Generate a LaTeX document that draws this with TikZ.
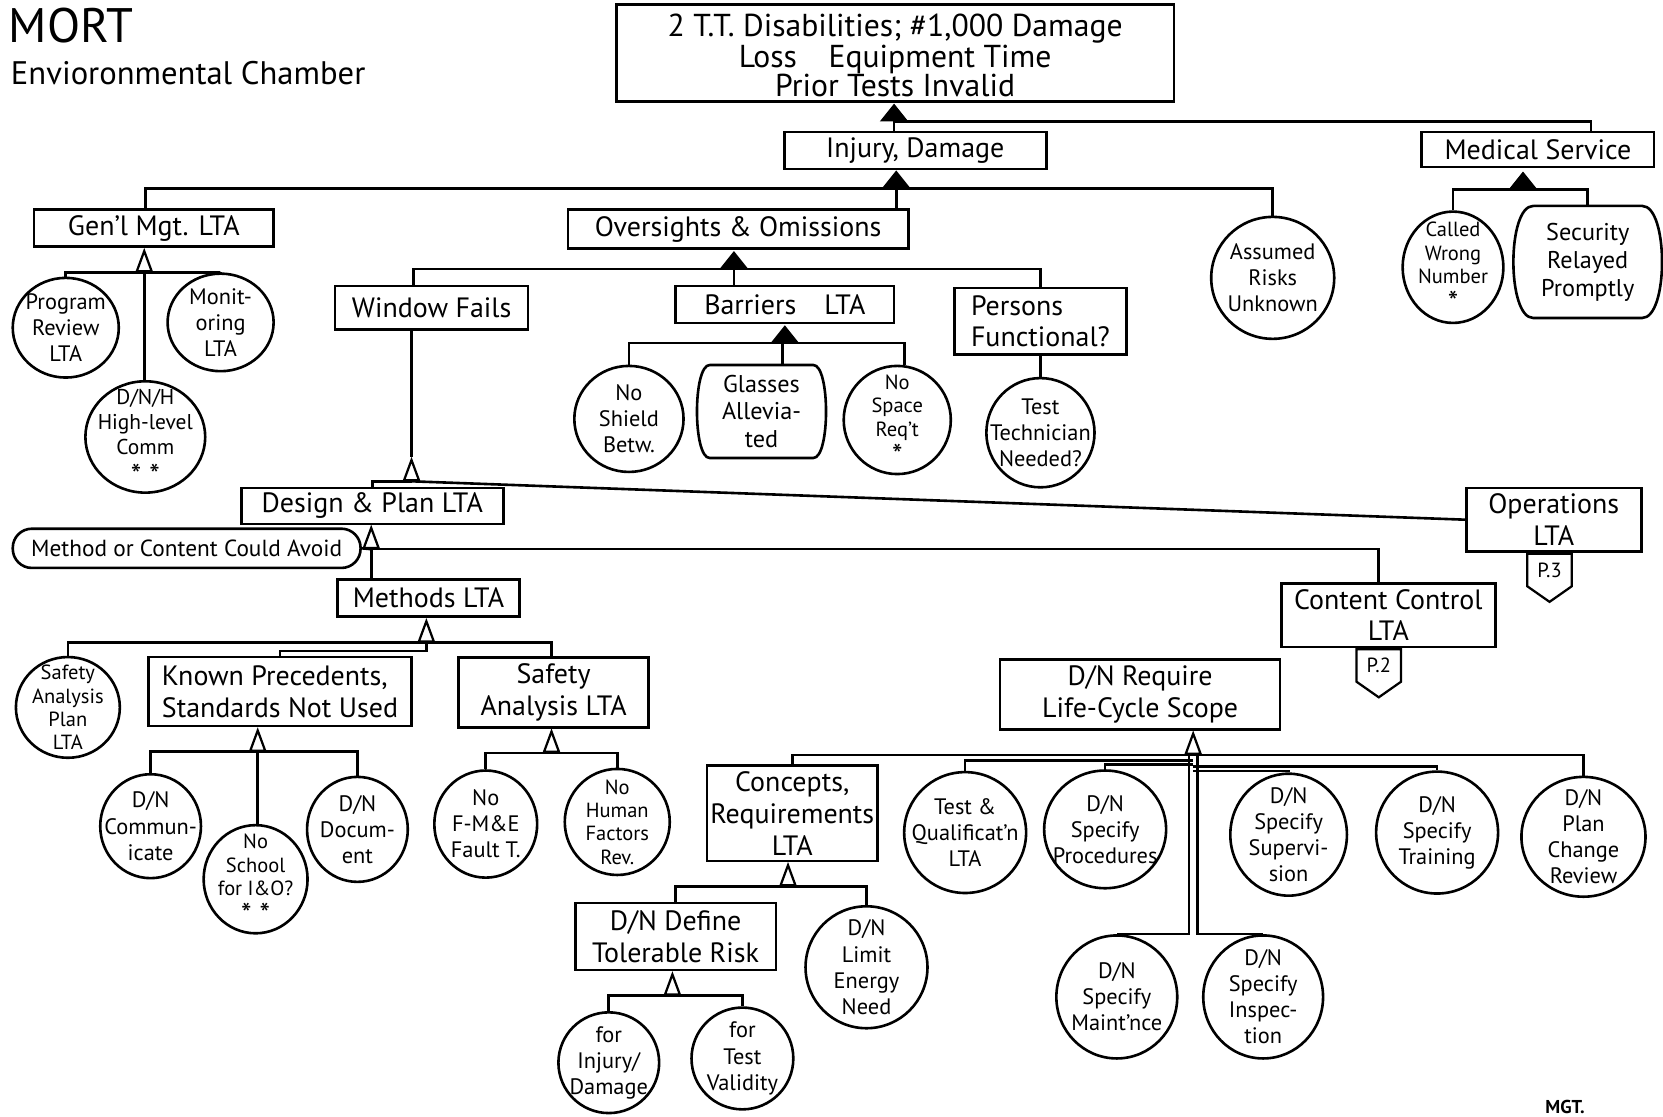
\documentclass[tikz,border=0pt]{standalone}
\usepackage{fontspec}
\setmainfont{PT Sans}
\usetikzlibrary{shapes.geometric,shapes.symbols}

\begin{document}
\begin{tikzpicture}[
    x=0.02cm, y=-0.02cm,
    wire/.style={line width=1.4pt},
    box/.style={draw, rectangle, line width=1.4pt, inner sep=0pt, align=center, font=\fontsize{15}{17}\selectfont},
    circ/.style={draw, ellipse, line width=1.4pt, inner sep=-15pt, align=center, font=\fontsize{12}{14}\selectfont},
    circs/.style={circ, font=\fontsize{11}{12.5}\selectfont},
    barrel/.style={rectangle, inner sep=0pt, align=center, font=\fontsize{13}{15}\selectfont},
    cond/.style={draw, rectangle, rounded corners=0.36cm, line width=1.4pt, inner sep=0pt, font=\fontsize{12.5}{14}\selectfont},
    xfer/.style={draw, signal, signal to=south, signal pointer angle=110, line width=1.2pt, inner sep=1pt, minimum width=0.84cm, minimum height=0.80cm, anchor=north, font=\fontsize{11}{12}\selectfont},
    gatef/.style={isosceles triangle, isosceles triangle stretches, shape border rotate=90, draw, fill=black, line width=0.8pt, inner sep=0pt, minimum width=0.48cm, minimum height=0.30cm, anchor=apex},
    gateo/.style={isosceles triangle, isosceles triangle stretches, shape border rotate=90, draw, fill=white, line width=1.2pt, inner sep=0pt, minimum width=0.28cm, minimum height=0.38cm, anchor=apex}
]
\useasboundingbox[fill=white] (0,0) rectangle (1568,1053);

% Title
\node[anchor=base west, inner sep=0pt, font=\fontsize{26}{30}\selectfont] (mort) at (8,40) {MORT};
\node[anchor=base west, inner sep=0pt, font=\fontsize{17.5}{20}\selectfont] (chamber) at (10,80) {Envioronmental Chamber};

% Top event
\node[box, minimum width=10.52cm, minimum height=1.82cm, font=\fontsize{17}{15.5}\selectfont] (top) at (844,50)
    {\rule{0pt}{15pt}2 T.T. Disabilities; \#1,000 Damage\\Loss\quad Equipment Time\\Prior Tests Invalid};
\node[gatef] (g0) at (843,97) {};
\node[box, minimum width=4.94cm, minimum height=0.70cm] (injury) at (863,142) {Injury, Damage};
\node[box, minimum width=4.38cm, minimum height=0.66cm] (medical) at (1450,141) {Medical Service};

% Medical service
\node[gatef] (gmed) at (1436,161) {};
\node[circs, minimum width=1.90cm, minimum height=2.10cm] (called) at (1370,252) {Called\\Wrong\\Number\\\raisebox{-3pt}{\fontsize{16}{12}\selectfont *}};
\node[barrel, minimum width=2.04cm, minimum height=2.10cm] (security) at (1497,247) {Security\\Relayed\\Promptly};

% Injury, damage
\node[gatef] (ginj) at (845,160) {};
\node[box, minimum width=4.52cm, minimum height=0.70cm] (genl) at (145,215) {Gen'l Mgt. LTA};
\node[box, minimum width=6.42cm, minimum height=0.74cm] (overs) at (696,216) {Oversights \& Omissions};
\node[circ, minimum width=2.32cm, minimum height=2.30cm] (assumed) at (1200,262) {Assumed\\Risks\\Unknown};

% General management
\node[gateo] (ggenl) at (136,234) {};
\node[circ, minimum width=2.00cm, minimum height=1.88cm] (progrev) at (62,309) {Program\\Review\\LTA};
\node[circ, minimum width=2.00cm, minimum height=1.84cm] (monit) at (208,304) {Monit-\\oring\\LTA};
\node[circ, minimum width=2.26cm, minimum height=2.10cm, font=\fontsize{11.5}{13.5}\selectfont] (dnh) at (137,412) {D/N/H\\High-level\\Comm\\\raisebox{-3pt}{\fontsize{16}{12}\selectfont * *}};

% Oversights and omissions
\node[gatef] (govers) at (692,236) {};
\node[box, minimum width=3.64cm, minimum height=0.82cm] (window) at (407,290) {Window Fails};
\node[box, minimum width=4.12cm, minimum height=0.70cm] (barriers) at (740,287) {Barriers\quad LTA};
\node[box, minimum width=3.24cm, minimum height=1.26cm, align=left] (persons) at (981,303) {Persons\\Functional?};

% Barriers
\node[gatef] (gbarr) at (740,306) {};
\node[circ, minimum width=2.06cm, minimum height=2.00cm] (noshield) at (593,395) {No\\Shield\\Betw.};
\node[barrel, minimum width=1.94cm, minimum height=1.74cm] (glasses) at (718,388) {Glasses\\Allevia-\\ted};
\node[circs, minimum width=2.02cm, minimum height=2.04cm] (nospace) at (846,396) {No\\Space\\Req't\\\raisebox{-3pt}{\fontsize{16}{12}\selectfont *}};
\node[circ, minimum width=2.04cm, minimum height=2.06cm] (testtech) at (981,408) {Test\\Technician\\Needed?};

% Window fails
\node[gateo] (gwin) at (388,431) {};
\node[box, minimum width=4.94cm, minimum height=0.68cm] (design) at (351,477) {Design \& Plan LTA};
\node[box, minimum width=3.30cm, minimum height=1.20cm] (operations) at (1465,490) {Operations\\LTA};
\node[xfer] (p3) at (1461,521) {P.3};

% Design and plan
\node[gateo] (gdesign) at (350,495) {};
\node[cond, minimum width=6.56cm, minimum height=0.74cm] (avoid) at (176,517) {Method or Content Could Avoid};
\node[box, minimum width=3.44cm, minimum height=0.70cm] (methods) at (404,564) {Methods LTA};
\node[box, minimum width=4.04cm, minimum height=1.20cm] (contentctl) at (1309,580) {Content Control\\LTA};
\node[xfer] (p2) at (1300,611) {P.2};

% Methods
\node[gateo] (gmethods) at (402,583) {};
\node[circ, minimum width=1.96cm, minimum height=1.90cm, font=\fontsize{11}{12.5}\selectfont] (saplan) at (64,667) {Safety\\Analysis\\Plan\\LTA};
\node[box, minimum width=4.96cm, minimum height=1.30cm, align=left] (known) at (264,652) {Known Precedents,\\Standards Not Used};
\node[box, minimum width=3.58cm, minimum height=1.32cm] (salta) at (522,653) {Safety\\Analysis LTA};

% Known precedents
\node[gateo] (gknown) at (243,686) {};
\node[circ, minimum width=1.90cm, minimum height=1.96cm] (dncomm) at (142,779) {D/N\\Commun-\\icate};
\node[circs, minimum width=1.96cm, minimum height=2.04cm] (noschool) at (241,829) {No\\School\\for I\&O?\\\raisebox{-3pt}{\fontsize{16}{12}\selectfont * *}};
\node[circ, minimum width=1.90cm, minimum height=1.98cm] (dndoc) at (337,782) {D/N\\Docum-\\ent};

% Safety analysis
\node[gateo] (gsalta) at (520,687) {};
\node[circ, minimum width=1.94cm, minimum height=2.02cm] (nofme) at (458,777) {No\\F-M\&E\\Fault T.};
\node[circs, minimum width=1.98cm, minimum height=2.00cm] (nohuman) at (582,775) {No\\Human\\Factors\\Rev.};

% Life-cycle scope
\node[box, minimum width=5.28cm, minimum height=1.32cm] (lifecycle) at (1075,655) {D/N Require\\Life-Cycle Scope};
\node[gateo] (glife) at (1125,689) {};
\node[box, minimum width=3.22cm, minimum height=1.80cm] (concepts) at (747,767) {Concepts,\\Requirements\\LTA};
\node[circ, minimum width=2.30cm, minimum height=2.28cm] (testqual) at (910,785) {Test \&\\Qualificat'n\\LTA};
\node[circ, minimum width=2.30cm, minimum height=2.22cm] (dnproc) at (1042,782) {D/N\\Specify\\Procedures};
\node[circ, minimum width=2.20cm, minimum height=2.30cm] (dnsuperv) at (1215,787) {D/N\\Specify\\Supervi-\\sion};
\node[circ, minimum width=2.30cm, minimum height=2.30cm] (dntrain) at (1355,785) {D/N\\Specify\\Training};
\node[circ, minimum width=2.34cm, minimum height=2.26cm] (dnplan) at (1493,789) {D/N\\Plan\\Change\\Review};
\node[circ, minimum width=2.28cm, minimum height=2.32cm] (dnmaint) at (1053,940) {D/N\\Specify\\Maint'nce};
\node[circ, minimum width=2.26cm, minimum height=2.32cm] (dninsp) at (1191,940) {D/N\\Specify\\Inspec-\\tion};

% Concepts
\node[gateo] (gconcepts) at (743,813) {};
\node[box, minimum width=3.78cm, minimum height=1.26cm] (tolrisk) at (637,883) {D/N Define\\Tolerable Risk};
\node[circ, minimum width=2.30cm, minimum height=2.30cm] (dnlimit) at (817,912) {D/N\\Limit\\Energy\\Need};

% Tolerable risk
\node[gateo] (gtol) at (634,916) {};
\node[circ, minimum width=1.90cm, minimum height=1.90cm] (forinj) at (574,1002) {for\\Injury/\\Damage};
\node[circ, minimum width=1.92cm, minimum height=1.92cm] (fortest) at (700,998) {for\\Test\\Validity};

\node[anchor=south west, inner sep=1pt, font=\bfseries\fontsize{10}{12}\selectfont] (mgt) at (1455,1052) {MGT.};

% Barrel outlines
\draw[wire] (security.north west) -- (security.north east)
    .. controls ([xshift=0.5cm]security.north east) and ([xshift=0.5cm]security.south east) .. (security.south east)
    -- (security.south west)
    .. controls ([xshift=-0.5cm]security.south west) and ([xshift=-0.5cm]security.north west) .. (security.north west);
\draw[wire] (glasses.north west) -- (glasses.north east)
    .. controls ([xshift=0.32cm]glasses.north east) and ([xshift=0.32cm]glasses.south east) .. (glasses.south east)
    -- (glasses.south west)
    .. controls ([xshift=-0.32cm]glasses.south west) and ([xshift=-0.32cm]glasses.north west) .. (glasses.north west);

% Connectors
\draw[wire] (g0.south) -- (g0.south |- injury.north);
\draw[wire] (g0.south) -| ([xshift=1cm]medical.north);
\draw[wire] (gmed.south) -| (called.north);
\draw[wire] (gmed.south) -| (security.north);
\draw[wire] (ginj.south) -- (ginj.south |- overs.north);
\draw[wire] (ginj.south) -| ([xshift=-0.16cm]genl.north);
\draw[wire] (ginj.south) -| (assumed.north);
\draw[wire] (ggenl.south) -| (progrev.north);
\draw[wire] (ggenl.south) -| (monit.north);
\draw[wire] (ggenl.south) -- (ggenl.south |- dnh.north);
\draw[wire] (govers.south) -| ([xshift=-0.34cm]window.north);
\draw[wire] (govers.south) -- (govers.south |- barriers.north);
\draw[wire] (govers.south) -| (persons.north);
\draw[wire] (gbarr.south) -| (noshield.north);
\draw[wire] (gbarr.south) -| ([xshift=0.4cm]glasses.north);
\draw[wire] (gbarr.south) -| ([xshift=0.14cm]nospace.north);
\draw[wire] (persons.south) -- (testtech.north);
\draw[wire] (window.south -| gwin.apex) -- (gwin.apex);
\draw[wire] (gwin.south) -| (design.north);
\draw[wire] (gwin.south) -- (operations.west);
\draw[wire] (avoid.east) -- (gdesign.south);
\draw[wire] (gdesign.south) -- (gdesign.south |- methods.north);
\draw[wire] (gdesign.south) -| ([xshift=-0.18cm]contentctl.north);
\draw[wire] (gmethods.south) -| (saplan.north);
\draw[wire] (gmethods.south) -| ([xshift=-0.04cm]salta.north);
\draw[wire] (gmethods.south) -- ++(0,8) -| (known.north);
\draw[wire] (gknown.south) -| (dncomm.north);
\draw[wire] (gknown.south) -| (dndoc.north);
\draw[wire] (gknown.south) -- (gknown.south |- noschool.north);
\draw[wire] (gsalta.south) -| (nofme.north);
\draw[wire] (gsalta.south) -| (nohuman.north);
\draw[wire] (glife.south) -| (concepts.north);
\draw[wire] (glife.south) -| (dnplan.north);
\draw[wire] ([yshift=-0.1cm]glife.south) -| (testqual.north);
\draw[wire] ([yshift=-0.18cm]glife.south) -| (dnproc.north);
\draw[wire] ([yshift=-0.22cm]glife.south) -| (dntrain.north);
\draw[wire] ([yshift=-0.30cm]glife.south) -| (dnsuperv.north);
\draw[wire] ([xshift=-0.08cm]glife.south) |- (dnmaint.north);
\draw[wire] ([xshift=0.08cm]glife.south) |- (dninsp.north);
\draw[wire] (gconcepts.south) -| (tolrisk.north);
\draw[wire] (gconcepts.south) -| (dnlimit.north);
\draw[wire] (gtol.south) -| (forinj.north);
\draw[wire] (gtol.south) -| (fortest.north);
\end{tikzpicture}
\end{document}
